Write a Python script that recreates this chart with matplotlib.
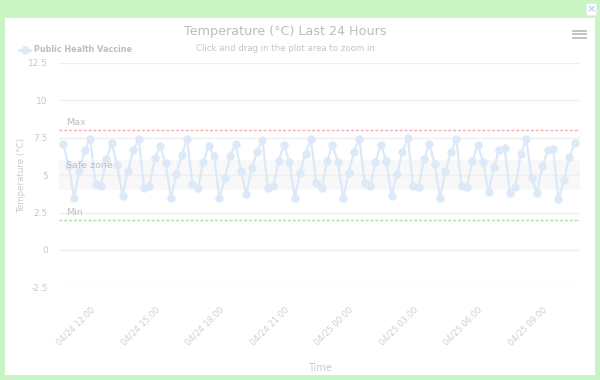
import matplotlib
matplotlib.use("Agg")
import matplotlib.pyplot as plt
import matplotlib.dates as mdates
from matplotlib.patches import Rectangle
import pandas as pd

# readings every 15 min, 04/24 10:45 -> 04/25 10:30
temps = [
    7.08, 5.64, 3.49, 5.31, 6.66, 7.44, 4.42, 4.29, 6.06, 7.13, 5.67, 3.60,
    5.31, 6.66, 7.42, 4.16, 4.27, 6.15, 6.93, 5.78, 3.49, 5.09, 6.33, 7.44,
    4.38, 4.11, 5.89, 6.93, 6.31, 3.45, 4.78, 6.26, 7.11, 5.29, 3.75, 5.49,
    6.55, 7.35, 4.11, 4.27, 5.93, 7.04, 5.89, 3.49, 5.16, 6.44, 7.44, 4.49,
    4.11, 5.93, 7.04, 5.90, 3.49, 5.13, 6.55, 7.44, 4.49, 4.25, 5.89, 7.04,
    5.93, 3.62, 5.11, 6.52, 7.50, 4.26, 4.20, 6.05, 7.08, 5.75, 3.48, 5.27,
    6.52, 7.41, 4.27, 4.20, 5.94, 7.03, 5.87, 3.86, 5.52, 6.69, 6.80, 3.80,
    4.22, 6.41, 7.41, 4.83, 3.83, 5.61, 6.65, 6.74, 3.39, 4.65, 6.20, 7.16,
]
times = pd.date_range("2024-04-24 10:45", periods=len(temps), freq="15min")

max_temp = 8
min_temp = 2
safe_zone = (4, 6)
y_ticks = [-2.5, 0, 2.5, 5, 7.5, 10, 12.5]

plt.rcParams['font.family'] = ['DejaVu Sans']

fig = plt.figure(figsize=(6, 3.8), dpi=100, facecolor="#c8f5c3")
# white panel inside the green frame
fig.patches.append(Rectangle((5 / 600, 5 / 380), 590 / 600, 357 / 380,
                             transform=fig.transFigure, facecolor="white",
                             edgecolor="none", zorder=0))
# close button
fig.patches.append(Rectangle((586 / 600, 1 - 15 / 380), 10 / 600, 12 / 380,
                             transform=fig.transFigure, facecolor="white",
                             edgecolor="#e6ece6", lw=0.5, zorder=1))
fig.text(591 / 600, 1 - 9 / 380, "×", ha="center", va="center",
         fontsize=8, color="#b8c0d8")

ax = fig.add_axes([59 / 600, 1 - 287.3 / 380, 521 / 600, 224.3 / 380])
ax.set_zorder(5)
ax.set_facecolor("none")

ax.axhspan(safe_zone[0], safe_zone[1], color="#f8f8f8", zorder=0.5, lw=0)
for v in y_ticks:
    ax.axhline(v, color="#efefef", lw=1, zorder=1)

ax.axhline(max_temp, color="#f5aaaa", lw=1, ls=(0, (2, 1.5)), zorder=2)
ax.axhline(min_temp, color="#a8dca8", lw=1, ls=(0, (2, 1.5)), zorder=2)

ax.plot(times, temps, color="#dce9f8", lw=1.6, marker="o", ms=5,
        markerfacecolor="#dce9f8", markeredgecolor="#dce9f8", zorder=3)

start = times[0] - pd.Timedelta(minutes=12)
end = times[-1] + pd.Timedelta(minutes=15)
ax.set_xlim(start, end)
ax.set_ylim(-2.5, 12.5)

ax.text(0.013, max_temp + 0.2, "Max", transform=ax.get_yaxis_transform(),
        fontsize=6.8, color="#bfbfbf", va="bottom")
ax.text(0.013, min_temp + 0.2, "Min", transform=ax.get_yaxis_transform(),
        fontsize=6.8, color="#bfbfbf", va="bottom")
ax.text(0.013, safe_zone[1] - 0.35, "Safe zone", transform=ax.get_yaxis_transform(),
        fontsize=6.8, color="#bfbfbf", va="center")

ax.set_yticks(y_ticks)
ax.set_yticklabels(["-2.5", "0", "2.5", "5", "7.5", "10", "12.5"])
ax.xaxis.set_major_locator(mdates.HourLocator(byhour=range(0, 24, 3)))
ax.xaxis.set_major_formatter(mdates.DateFormatter("%m/%d %H:%M"))
ax.tick_params(axis="y", length=0, pad=8, labelsize=6.5, labelcolor="#c8c8c8")
ax.tick_params(axis="x", length=0, pad=13, labelsize=6, labelcolor="#cfcfcf")
for lbl in ax.get_xticklabels():
    lbl.set_rotation(45)
    lbl.set_ha("right")
    lbl.set_rotation_mode("anchor")

for s in ax.spines.values():
    s.set_visible(False)

ax.set_ylabel("Temperature (°C)", fontsize=6.3, color="#cccccc")
ax.yaxis.set_label_coords(-33 / 521, 0.5)
ax.set_xlabel("Time", fontsize=7, color="#cccccc")
ax.xaxis.set_label_coords(0.5, -(368 - 287.3) / 224.3)
ax.xaxis.label.set_va("center")

fig.text(285.5 / 600, 1 - 32 / 380, "Temperature (°C) Last 24 Hours",
         ha="center", va="center", fontsize=9.2, color="#bdbdbd")
fig.text(285.5 / 600, 1 - 48.5 / 380, "Click and drag in the plot area to zoom in",
         ha="center", va="center", fontsize=6.2, color="#c4c4c4")

# legend
fig.lines.append(plt.Line2D([19 / 600, 30 / 600], [1 - 50 / 380, 1 - 50 / 380],
                            transform=fig.transFigure, color="#dce9f8", lw=2))
fig.lines.append(plt.Line2D([24.5 / 600], [1 - 50 / 380], transform=fig.transFigure,
                            color="#dce9f8", marker="o", ms=5, lw=0))
fig.text(34 / 600, 1 - 50 / 380, "Public Health Vaccine", ha="left", va="center",
         fontsize=5.8, fontweight="bold", color="#bcbcc4")

# menu icon
for yy in (30.5, 34, 37.5):
    fig.lines.append(plt.Line2D([573 / 600, 586 / 600], [1 - yy / 380, 1 - yy / 380],
                                transform=fig.transFigure, color="#bdbdbd", lw=1.3))

fig.savefig("out.png", dpi=100, facecolor=fig.get_facecolor())
